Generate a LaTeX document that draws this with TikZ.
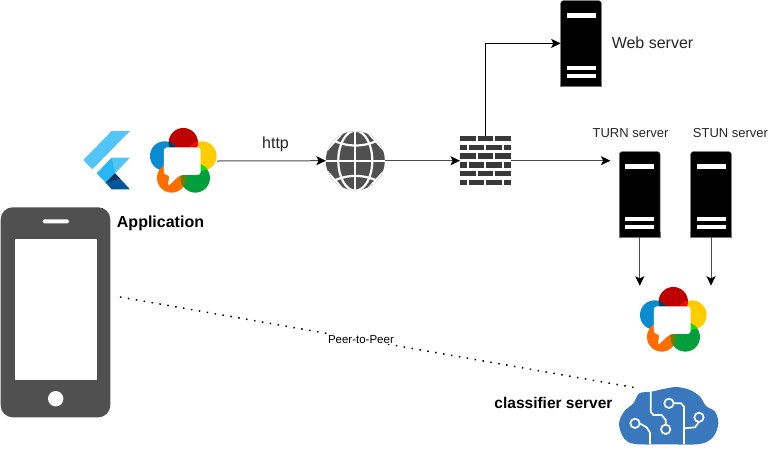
\documentclass[tikz,border=0pt]{standalone}
\usepackage{fontspec}
\setmainfont{Liberation Sans}
\usetikzlibrary{arrows.meta,calc}
\definecolor{icongray}{HTML}{505050}
\definecolor{rtcred}{HTML}{BF0000}
\definecolor{rtcblue}{HTML}{0A8BD0}
\definecolor{rtcyellow}{HTML}{FFCC00}
\definecolor{rtcorange}{HTML}{FF6D00}
\definecolor{rtcgreen}{HTML}{009F3C}
\definecolor{cloudblue}{HTML}{3A78BE}
\definecolor{flutterlight}{HTML}{54C5F8}
\definecolor{fluttermid}{HTML}{29B6F6}
\definecolor{flutterdark}{HTML}{01579B}
\definecolor{flutterdeep}{HTML}{084F8C}
\tikzset{
  inset sep/.style={inner sep=0pt,outer sep=0pt},
  conn/.style={draw=black!70,line width=1pt,-{Stealth[length=9.5pt,width=9pt,inset=2.2pt,color=black]}},
  label/.style={inner sep=0pt,text=black!85},
  webrtc/.pic={
    \begin{scope}[x=0.3333pt,y=-0.3333pt,shift={(-340,-130)}]
      \fill[rtcred] (340,68) circle (44);
      \fill[rtcblue] (284,108) circle (44);
      \fill[rtcyellow] (396,108) circle (44);
      \fill[rtcorange] (305,174) circle (44);
      \fill[rtcgreen] (376,174) circle (44);
      \begin{scope}\clip (340,68) circle (44);\fill[black,opacity=.55] (284,108) circle (44);\fill[red] (396,108) circle (44);\end{scope}
      \begin{scope}\clip (396,108) circle (44);\fill[green!85!black!90!yellow] (376,174) circle (44);\end{scope}
      \begin{scope}\clip (376,174) circle (44);\fill[black!45!green!60!rtcorange] (305,174) circle (44);\end{scope}
      \fill[white,rounded corners=3pt] (282,82) -- (392,82) -- (392,165) -- (330,165) -- (293,200) -- (299,165) -- (282,165) -- cycle;
    \end{scope}
  },
  serverpic/.pic={
    \fill[black,rounded corners=2.5pt] (0,85.5) -- (0,0) -- (40.7,0) -- (40.7,85.5) [sharp corners] -- cycle;
    \fill[black] (0,80) rectangle (40.7,85.5);
    \draw[black!55,line width=.5pt,rounded corners=2.5pt] (0,80) -- (0,0) -- (40.7,0) -- (40.7,80);
    \draw[black!55,line width=.5pt] (0,80) -- (0,85.5) -- (40.7,85.5) -- (40.7,80);
    \fill[white] (6,12.7) rectangle (35,17);
    \fill[white] (6,64.8) rectangle (35,69);
    \fill[white] (6,73.2) rectangle (35,77.5);
  },
}
\begin{document}
\begin{tikzpicture}[x=1pt,y=-1pt]
\useasboundingbox (0,0) rectangle (781,448);
\fill[white] (0,0) rectangle (781,448);

% flutter logo
\begin{scope}[shift={(70,120)},x=0.3333pt,y=-0.3333pt]
  \fill[flutterlight] (40,120) -- (125,33) -- (180,33) -- (67,148) -- cycle;
  \fill[flutterlight] (107,188) -- (125,113) -- (180,113) -- (135,160) -- cycle;
  \fill[fluttermid] (80,160) -- (125,113) -- (135,160) -- (107,188) -- cycle;
  \fill[flutterdark] (135,160) -- (180,208) -- (125,208) -- (107,188) -- cycle;
  \fill[flutterdeep!70!black] (107,188) -- (135,160) -- (150,176) -- cycle;
\end{scope}
\node[inset sep,minimum width=47pt,minimum height=59pt] (flutter) at (106.5,161) {};

% webrtc logos
\pic at (183.3,163.3) {webrtc};
\node[inset sep,minimum width=68pt,minimum height=50pt] (rtcapp) at (183,161) {};
\pic at (673.3,322.3) {webrtc};
\node[inset sep,minimum width=68pt,minimum height=70pt] (rtcpeer) at (673,320.7) {};

% globe
\node[inset sep,minimum size=59pt] (globe) at (355.3,160.7) {};
\begin{scope}
  \fill[icongray] (globe) circle (29.5);
  \begin{scope}
    \clip (globe) circle (29.5);
    \draw[white,line width=2.2pt] (355.3,130) -- (355.3,191);
    \draw[white,line width=2.2pt] (325,160.7) -- (386,160.7);
    \draw[white,line width=2.2pt] (355.3,160.7) ellipse (17 and 30);
    \draw[white,line width=2.2pt] (329,138) .. controls (345,148) and (366,148) .. (382,138);
    \draw[white,line width=2.2pt] (329,183.4) .. controls (345,173.4) and (366,173.4) .. (382,183.4);
    \draw[white,line width=2.2pt] (344,131) -- (327,150);
    \draw[white,line width=2.2pt] (366.6,131) -- (384,150);
    \draw[white,line width=2.2pt] (344,190.4) -- (327,171.4);
    \draw[white,line width=2.2pt] (366.6,190.4) -- (384,171.4);
  \end{scope}
\end{scope}

% firewall
\node[inset sep,minimum width=51pt,minimum height=50pt] (fw) at (485.5,160.7) {};
\begin{scope}[shift={(310,120)},x=0.3333pt,y=-0.3333pt]
  \foreach \y in {47,100,153} {
    \fill[icongray!70!black] (450,\y) rectangle (497,\y+16);
    \fill[icongray!70!black] (503,\y) rectangle (549,\y+16);
    \fill[icongray!70!black] (555,\y) rectangle (603,\y+16);
  }
  \foreach \y in {74,127,180} {
    \fill[icongray!70!black] (450,\y) rectangle (470,\y+16);
    \fill[icongray!70!black] (477,\y) rectangle (523,\y+16);
    \fill[icongray!70!black] (529,\y) rectangle (575,\y+16);
    \fill[icongray!70!black] (582,\y) rectangle (603,\y+16);
  }
\end{scope}

% servers
\pic at (560.7,0.7) {serverpic};
\node[inset sep,minimum width=40.7pt,minimum height=85.5pt] (web) at (581,43.4) {};
\pic at (619.4,151.7) {serverpic};
\node[inset sep,minimum width=40.7pt,minimum height=85.5pt] (turn) at (639.8,194.4) {};
\pic at (690.7,151.7) {serverpic};
\node[inset sep,minimum width=40.7pt,minimum height=85.5pt] (stun) at (711,194.4) {};

% phone
\node[inset sep,minimum width=110pt,minimum height=210pt] (phone) at (55.5,312.3) {};
\fill[icongray,rounded corners=12pt] (0.7,207.3) rectangle (110.3,417.3);
\fill[white] (15,239.3) rectangle (96.7,379.7);
\fill[white,rounded corners=1.5pt] (42.7,219.3) rectangle (69,223.3);
\fill[white] (55.7,398.7) circle (7.7);

% cloud
\node[inset sep,minimum width=99pt,minimum height=57pt] (cloud) at (668.7,415.5) {};
\begin{scope}[shift={(600,270)},x=0.3333pt,y=-0.3333pt]
  \fill[cloudblue] plot[smooth cycle,tension=.55] coordinates {(57,462) (72,425) (100,400) (118,370) (155,365) (190,357) (230,351) (270,360) (300,380) (318,408) (345,425) (355,460) (340,500) (300,522) (200,523) (105,522) (72,505)};
  \begin{scope}[draw=white,line width=1.7pt]
    \draw (152,362) -- (152,425) -- (160,435) -- (185,435) -- (197,450) -- (197,464);
    \draw (197,478) circle (14);
    \draw (105,460) circle (14);
    \draw (119,460) -- (140,472) -- (150,488) -- (150,523);
    \draw (207,400) circle (14);
    \draw (221,400) -- (243,400) -- (252,410) -- (252,523);
    \draw (297,442) circle (14);
    \draw (297,456) -- (285,472) -- (252,475);
  \end{scope}
\end{scope}

% connectors
\coordinate (p2pstart) at (120,297);
\coordinate (p2pend) at (637,388);
\draw[conn] (rtcapp.east) -- (globe.west);
\draw[conn] (globe.east) -- (fw.west);
\draw[conn,shorten >=9pt] (fw.east) -- (fw.east -| turn.west);
\draw[conn,draw=black] (fw.north) |- (web.west);
\draw[conn] (turn.south) -- (turn.south |- rtcpeer.north);
\draw[conn] (stun.south) -- (stun.south |- rtcpeer.north);
\draw[black,line width=1.5pt,dash pattern=on 1.5pt off 6.5pt] (p2pstart) -- node[pos=0.466,fill=white,inner sep=1pt,text=black,font=\fontsize{11.5}{13}\selectfont] (p2plabel) {Peer-to-Peer} (p2pend);

% labels
\node[label,font=\fontsize{16}{19}\selectfont] (httplabel) at (275.5,144) {http};
\node[label,font=\fontsize{16}{19}\selectfont] (weblabel) at (652.5,43) {Web server};
\node[label,font=\fontsize{13}{15}\selectfont] (turnlabel) at (630.5,133) {TURN server};
\node[label,font=\fontsize{13}{15}\selectfont] (stunlabel) at (730.5,133) {STUN server};
\node[label,text=black,font=\bfseries\fontsize{16}{19}\selectfont] (applabel) at (160.5,223) {Application};
\node[label,text=black,font=\bfseries\fontsize{15.5}{18}\selectfont] (classlabel) at (553.5,402.5) {classifier server};
\end{tikzpicture}
\end{document}
